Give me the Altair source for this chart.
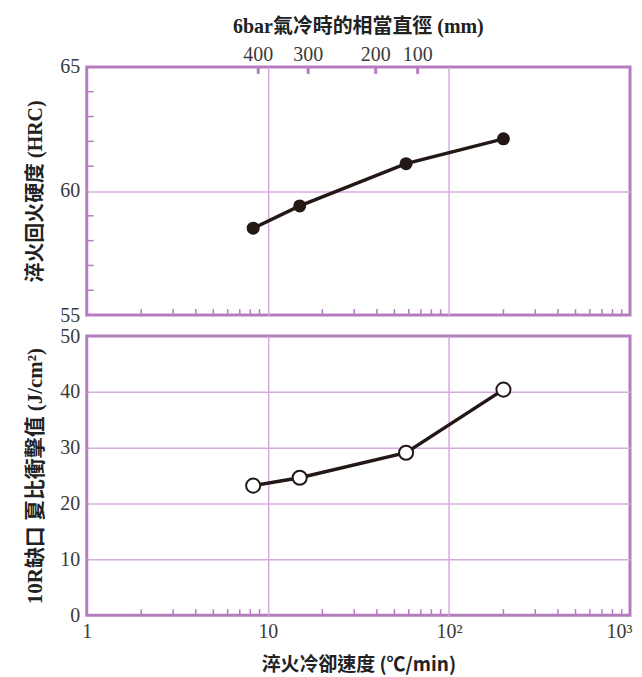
import altair as alt
import pandas as pd

# ---- data ----
rate = [8.3, 15, 58, 200]              # quench cooling rate (°C/min)
hardness = [58.5, 59.4, 61.1, 62.1]    # HRC
impact = [23.2, 24.6, 29.1, 40.4]      # J/cm2

diam_labels = ["400", "300", "200", "100"]   # equivalent diameter (mm)
diam_rate = [8.85, 16.7, 39.4, 67.2]          # matching cooling rate

x_major = [1, 10, 100, 1000]
x_major_labels = ["1", "10", "10²", "10³"]
x_minor = [2, 3, 4, 5, 6, 7, 8, 9, 20, 30, 40, 50, 60, 70, 80, 90,
           200, 300, 400, 500, 600, 700, 800, 900]
hrc_major = [55, 60, 65]
hrc_minor = [56, 57, 58, 59, 61, 62, 63, 64]
imp_major = [0, 10, 20, 30, 40, 50]

W, H1, H2 = 545, 249, 280
PURPLE = "#b57cc0"
GRID = "#d6abde"
INK = "#231815"
TXT = "#3a3a3a"
CJK = "Noto Sans CJK TC"
MIX = "Liberation Serif, Noto Sans CJK TC"
SERIF = "Liberation Serif"

df = pd.DataFrame({"rate": rate, "hardness": hardness, "impact": impact})
df_minor = pd.DataFrame({"v": x_minor})
df_hminor = pd.DataFrame({"v": hrc_minor})
df_diam = pd.DataFrame({"lab": diam_labels, "rate": diam_rate})

xs = alt.Scale(type="log", domain=[1, 1000], nice=False)
ys1 = alt.Scale(domain=[55, 65], nice=False, zero=False)
ys2 = alt.Scale(domain=[0, 50], nice=False)

label_expr = " : ".join(
    f"datum.value == {v} ? '{l}'" for v, l in zip(x_major[:-1], x_major_labels[:-1])
) + f" : '{x_major_labels[-1]}'"

x_grid = alt.condition("datum.value == 10 || datum.value == 100", alt.value(1), alt.value(0))

# ---------- top panel ----------
top_line = alt.Chart(df).mark_line(color=INK, strokeWidth=3.5).encode(
    x=alt.X("rate:Q", scale=xs, axis=alt.Axis(values=x_major, labels=False, title=None,
                                             grid=True, gridOpacity=x_grid,
                                             minExtent=0, maxExtent=0, labelPadding=0)),
    y=alt.Y("hardness:Q", scale=ys1,
            axis=alt.Axis(values=hrc_major, title="淬火回火硬度 (HRC)", grid=True,
                          gridOpacity=alt.condition("datum.value == 60", alt.value(1), alt.value(0)))),
)
top_pts = alt.Chart(df).mark_circle(size=170, color=INK, opacity=1).encode(
    x=alt.X("rate:Q", scale=xs), y=alt.Y("hardness:Q", scale=ys1)
)
top_xminor = alt.Chart(df_minor).mark_rule(color=PURPLE, strokeWidth=1.5).encode(
    x=alt.X("v:Q", scale=xs), y=alt.value(H1), y2=alt.value(H1 - 6)
)
top_yminor = alt.Chart(df_hminor).mark_rule(color=PURPLE, strokeWidth=1.5).encode(
    y=alt.Y("v:Q", scale=ys1), x=alt.value(0), x2=alt.value(7)
)
top_dticks = alt.Chart(df_diam).mark_rule(color=PURPLE, strokeWidth=3).encode(
    x=alt.X("rate:Q", scale=xs), y=alt.value(0), y2=alt.value(7)
)
top_dlabels = alt.Chart(df_diam).mark_text(font=SERIF, fontSize=20, color=TXT, baseline="middle").encode(
    x=alt.X("rate:Q", scale=xs), y=alt.value(-12), text="lab:N"
)
top = alt.layer(top_xminor, top_yminor, top_dticks, top_dlabels, top_line, top_pts).properties(
    width=W, height=H1,
    title=alt.Title("6bar氣冷時的相當直徑 (mm)", font=MIX, fontSize=20, fontWeight="bold",
                    color="#222222", anchor="middle", offset=8),
)

# ---------- bottom panel ----------
bot_line = alt.Chart(df).mark_line(color=INK, strokeWidth=3.5).encode(
    x=alt.X("rate:Q", scale=xs, axis=alt.Axis(values=x_major, labelExpr=label_expr,
                                             title="淬火冷卻速度 (℃/min)", grid=True,
                                             gridOpacity=x_grid, labelPadding=6,
                                             labelFlush=False,
                                             labelOffset=alt.condition("datum.value == 1000",
                                                                       alt.value(-11), alt.value(0)),
                                             titleFont=CJK, titleFontSize=19,
                                             titlePadding=15)),
    y=alt.Y("impact:Q", scale=ys2,
            axis=alt.Axis(values=imp_major, title="10R缺口 夏比衝擊值 (J/cm²)", grid=True,
                          titleFontSize=21,
                          gridOpacity=alt.condition("datum.value > 0 && datum.value < 50",
                                                    alt.value(1), alt.value(0)))),
)
bot_pts = alt.Chart(df).mark_point(size=200, filled=True, fill="white", stroke=INK,
                                   strokeWidth=2, opacity=1).encode(
    x=alt.X("rate:Q", scale=xs), y=alt.Y("impact:Q", scale=ys2)
)
bot_xminor = alt.Chart(df_minor).mark_rule(color=PURPLE, strokeWidth=1.5).encode(
    x=alt.X("v:Q", scale=xs), y=alt.value(H2), y2=alt.value(H2 - 6)
)
bot = alt.layer(bot_xminor, bot_line, bot_pts).properties(width=W, height=H2)

chart = alt.vconcat(top, bot, spacing=21, bounds="flush").resolve_scale(y="independent").configure_view(
    stroke=PURPLE, strokeWidth=3
).configure_axis(
    domain=False, ticks=False, gridColor=GRID, gridWidth=1.5,
    labelFont=SERIF, labelFontSize=20, labelColor=TXT, labelPadding=7,
    titleFont=MIX, titleFontSize=20, titleFontWeight="bold", titleColor="#222222",
    titlePadding=14,
).properties(padding={"left": 15, "top": 6, "right": 0, "bottom": 0})

chart.save("out.html", embed_options={"renderer": "svg", "actions": False})
